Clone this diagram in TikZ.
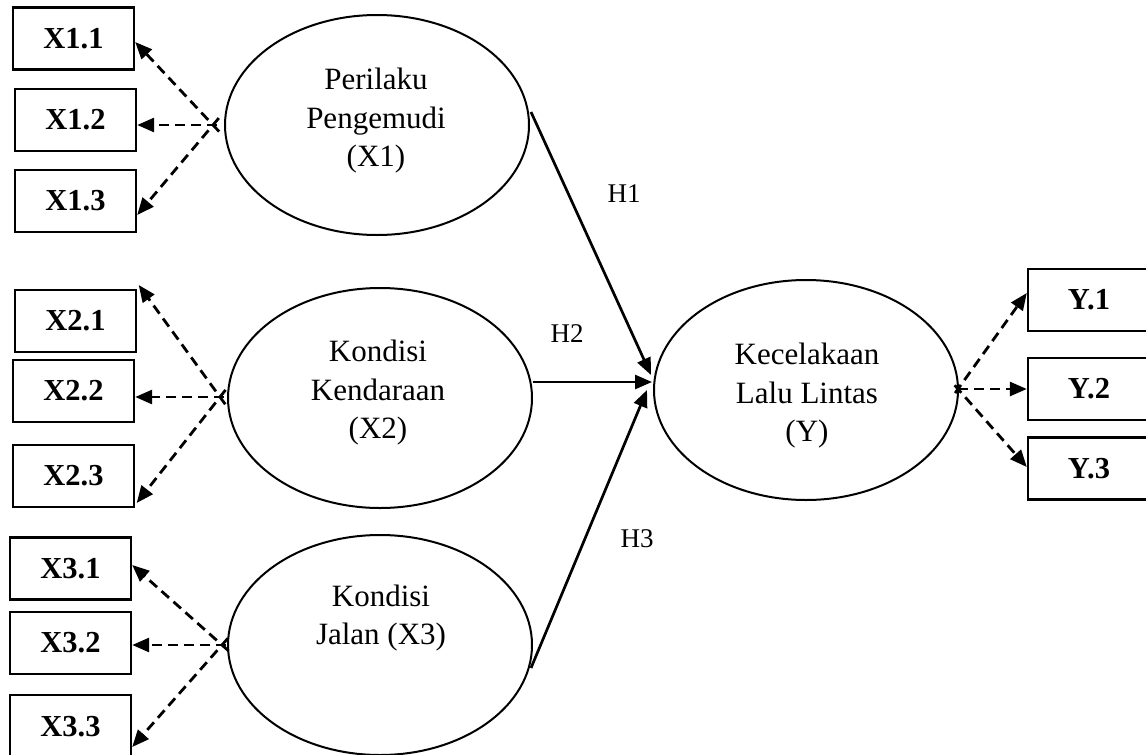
\documentclass[tikz,border=0pt]{standalone}
\usepackage{fontspec}
\setmainfont{Liberation Serif}
\usetikzlibrary{shapes.geometric,arrows.meta,calc}
\begin{document}
\begin{tikzpicture}[x=1pt,y=-1pt,
  lat/.style={draw, ellipse, line width=2pt, minimum width=304pt, minimum height=220pt, inner sep=0pt},
  lattext/.style={align=center, font=\fontsize{31}{38.5}\selectfont},
  ind/.style={draw, line width=2.4pt, minimum width=121pt, minimum height=62pt, inner sep=0pt, font=\fontsize{30.5}{36}\selectfont\bfseries},
  load/.style={line width=2.8pt, dash pattern=on 10pt off 6pt, -{Triangle[length=17pt,width=14pt]}},
  path/.style={line width=2.7pt, -{Triangle[length=17pt,width=14pt]}},
  hlab/.style={font=\fontsize{27}{32}\selectfont}]
\useasboundingbox (0,0) rectangle (1146,755);
\fill[white] (0,0) rectangle (1146,755);
% latent variables
\node[lat] (e1) at (377,125) {};
\node[lat] (e2) at (380,398) {};
\node[lat] (e3) at (380,645) {};
\node[lat] (ey) at (806,390) {};
\node[lattext] (t1) at (376,121) {Perilaku\\Pengemudi\\(X1)};
\node[lattext] (t2) at (378,393) {Kondisi\\Kendaraan\\(X2)};
\node[lattext] (t3) at (381,618) {Kondisi\\Jalan (X3)};
\node[lattext] (ty) at (807,396) {Kecelakaan\\Lalu Lintas\\(Y)};
% indicators
\node[ind] (b11) at (73.5,38.5) {X1.1};
\node[ind] (b12) at (75.5,120) {X1.2};
\node[ind] (b13) at (75.5,201) {X1.3};
\node[ind] (b21) at (75.5,321) {X2.1};
\node[ind] (b22) at (73.5,391) {X2.2};
\node[ind] (b23) at (73.5,476) {X2.3};
\node[ind] (b31) at (70.5,568.5) {X3.1};
\node[ind] (b32) at (70.5,643) {X3.2};
\node[ind, minimum height=64pt] (b33) at (70.5,727) {X3.3};
\node[ind, minimum width=122pt] (by1) at (1089,300) {Y.1};
\node[ind, minimum width=122pt] (by2) at (1089,389) {Y.2};
\node[ind, minimum width=122pt] (by3) at (1089,468.5) {Y.3};
% convergence points
\coordinate (c1) at (213,125);
\coordinate (c2) at (220,397);
\coordinate (c3) at (222,645);
\coordinate (cy) at (958,389);
% tip points
\coordinate (t11) at ([yshift=-3.5pt]b11.east);
\coordinate (t12) at ([yshift=-5pt]b12.east);
\coordinate (t13) at ([yshift=-14pt]b13.east);
\coordinate (t21) at ([shift={(1.5pt,36pt)}]b21.east);
\coordinate (t22) at ([yshift=-6pt]b22.east);
\coordinate (t23) at ([shift={(1.5pt,-27pt)}]b23.east);
\coordinate (t31) at ([yshift=3.5pt]b31.east);
\coordinate (t32) at ([yshift=-2pt]b32.east);
\coordinate (t33) at ([yshift=-20pt]b33.east);
\coordinate (ty1) at ([yshift=7pt]by1.west);
\coordinate (ty2) at (by2.west);
\coordinate (ty3) at ([yshift=1.5pt]by3.west);
% loadings
\draw[load] ($(c1)!-9pt!(t11)$) -- (t11);
\draw[load] ($(c1)!-4pt!(t12)$) -- (t12);
\draw[load] ($(c1)!-9pt!(t13)$) -- (t13);
\draw[load] ($(c2)!-9pt!(t21)$) -- (t21);
\draw[load] ($(c2)!-4pt!(t22)$) -- (t22);
\draw[load] ($(c2)!-9pt!(t23)$) -- (t23);
\draw[load] ($(c3)!-9pt!(t31)$) -- (t31);
\draw[load] ($(c3)!-4pt!(t32)$) -- (t32);
\draw[load] ($(c3)!-9pt!(t33)$) -- (t33);
\draw[load] ($(cy)!-5pt!(ty1)$) -- (ty1);
\draw[load] (cy) -- (ty2);
\draw[load] ($(cy)!-5pt!(ty3)$) -- (ty3);
% structural paths
\coordinate (h1s) at ([shift={(1pt,13pt)}]e1.east);
\coordinate (h2s) at ([shift={(-0.5pt,16pt)}]e2.east);
\coordinate (h3s) at ([shift={(-2pt,-23pt)}]e3.east);
\coordinate (h1e) at ([shift={(-2pt,15pt)}]ey.west);
\coordinate (h2e) at ([shift={(-1pt,8pt)}]ey.west);
\coordinate (h3e) at ([xshift=-6pt]ey.west);
\draw[path] (h1s) -- (h1e);
\draw[path] (h2s) -- (h2e);
\draw[path] (h3s) -- (h3e);
\node[hlab] (H1) at (624,194) {H1};
\node[hlab] (H2) at (567,334) {H2};
\node[hlab] (H3) at (637,539) {H3};
\end{tikzpicture}
\end{document}
